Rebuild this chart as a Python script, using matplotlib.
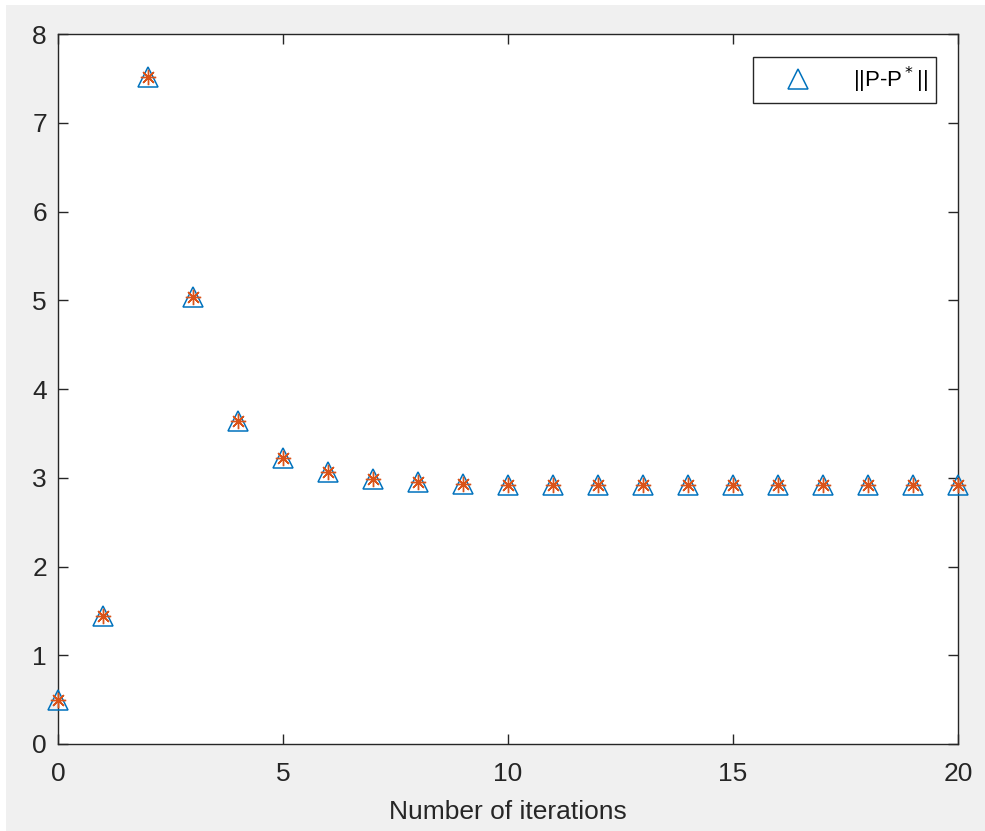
import numpy as np
import matplotlib
matplotlib.use("Agg")
from matplotlib import pyplot as plt
from matplotlib.patches import Rectangle

# values
iters = np.arange(0, 21)
err = [0.50, 1.44, 7.52, 5.04, 3.64, 3.22, 3.07, 2.99, 2.95, 2.93, 2.92,
       2.92, 2.92, 2.92, 2.92, 2.92, 2.92, 2.92, 2.92, 2.92, 2.92]
xticks = [0, 5, 10, 15, 20]
yticks = [0, 1, 2, 3, 4, 5, 6, 7, 8]

plt.rcParams['font.family'] = ['Liberation Sans', 'DejaVu Sans']
fig = plt.figure(figsize=(9.85, 8.31), dpi=100, facecolor='white')
# grey figure area (screenshot has a thin white edge left/top)
fig.patches.append(Rectangle((6 / 985, 0), 1, 826 / 831, transform=fig.transFigure,
                             facecolor='#f0f0f0', edgecolor='none', zorder=-10))
ax = fig.add_axes([0.0589, 0.1047, 0.9137, 0.8543])
ax.set_facecolor('white')

ax.plot(iters, err, linestyle='none', marker='^', markersize=14,
        markerfacecolor='none', markeredgecolor='#0072bd', markeredgewidth=1.1,
        label='||P-P$^*$||', clip_on=False, zorder=3)
ax.plot(iters, err, linestyle='none', marker=(8, 2, 0), markersize=11,
        markerfacecolor='none', markeredgecolor='#d95319', markeredgewidth=1.0,
        clip_on=False, zorder=4)

ax.set_xlim(0, 20)
ax.set_ylim(0, 8)
ax.set_xticks(xticks)
ax.set_yticks(yticks)
ax.tick_params(direction='in', length=7, width=1.0, top=True, right=True,
               labelsize=19, colors='#262626')
ax.tick_params(axis='y', pad=8)
ax.tick_params(axis='x', pad=13)
for s in ax.spines.values():
    s.set_color('#262626')
    s.set_linewidth(1.0)
ax.set_xlabel('Number of iterations', fontsize=19, color='#262626', labelpad=10)

leg = ax.legend(loc='upper right', fontsize=16, fancybox=False, framealpha=1,
                edgecolor='#262626', borderpad=0.35, handletextpad=0.85,
                handlelength=3.3, borderaxespad=0,
                bbox_to_anchor=(0.9756, 0.968))
leg.get_frame().set_linewidth(1.0)

fig.savefig('out.png', dpi=100, facecolor=fig.get_facecolor())
